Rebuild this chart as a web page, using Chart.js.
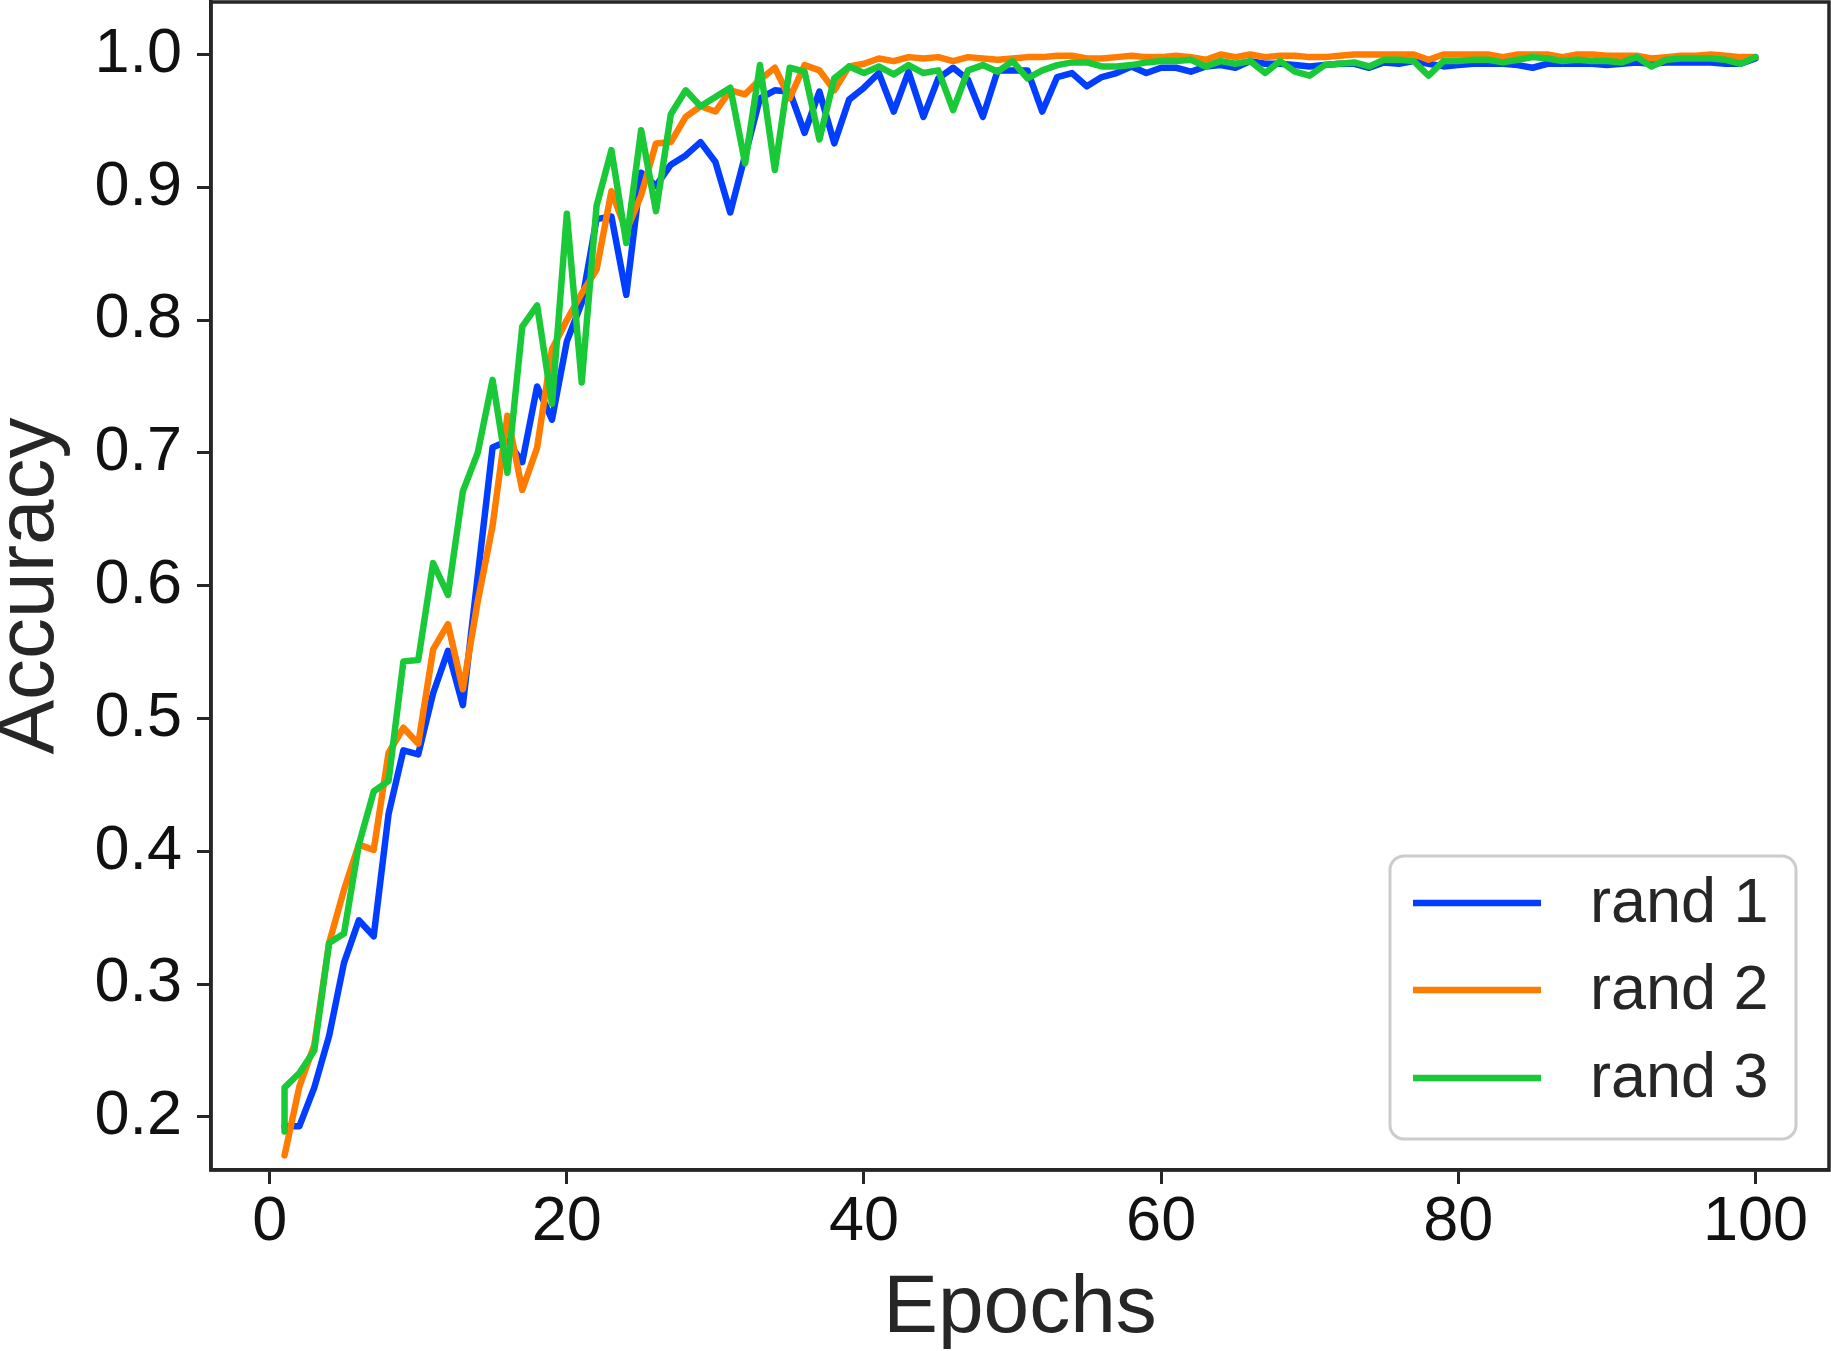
<!DOCTYPE html>
<html>
<head>
<meta charset="utf-8">
<script src="https://cdn.jsdelivr.net/npm/chart.js@4.4.1/dist/chart.umd.min.js"></script>
<style>
  html, body { margin: 0; padding: 0; background: #ffffff; }
  #wrap { width: 1831px; height: 1351px; position: relative; }
  canvas { display: block; }
</style>
</head>
<body>
<div id="wrap"><canvas id="c" width="1831" height="1351"></canvas></div>
<script>
// ---------------- data ----------------
const epochs = [1,2,3,4,5,6,7,8,9,10,11,12,13,14,15,16,17,18,19,20,
  21,22,23,24,25,26,27,28,29,30,31,32,33,34,35,36,37,38,39,40,
  41,42,43,44,45,46,47,48,49,50,51,52,53,54,55,56,57,58,59,60,
  61,62,63,64,65,66,67,68,69,70,71,72,73,74,75,76,77,78,79,80,
  81,82,83,84,85,86,87,88,89,90,91,92,93,94,95,96,97,98,99,100];

const rand1 = [0.193,0.193,0.222,0.261,0.316,0.348,0.336,0.428,0.476,0.473,
  0.519,0.551,0.510,0.607,0.704,0.709,0.693,0.750,0.725,0.784,
  0.813,0.876,0.878,0.819,0.911,0.901,0.917,0.924,0.934,0.919,
  0.881,0.924,0.967,0.973,0.972,0.941,0.972,0.933,0.966,0.975,
  0.986,0.957,0.987,0.953,0.982,0.990,0.981,0.953,0.988,0.988,
  0.988,0.957,0.983,0.986,0.976,0.983,0.986,0.991,0.986,0.990,
  0.990,0.987,0.991,0.992,0.990,0.995,0.993,0.993,0.992,0.991,
  0.992,0.993,0.993,0.990,0.994,0.993,0.995,0.993,0.991,0.992,
  0.993,0.993,0.993,0.992,0.990,0.993,0.993,0.993,0.993,0.992,
  0.993,0.994,0.993,0.994,0.994,0.994,0.994,0.993,0.993,0.997];

const rand2 = [0.171,0.223,0.254,0.331,0.371,0.405,0.401,0.474,0.493,0.481,
  0.552,0.571,0.522,0.588,0.645,0.728,0.672,0.704,0.778,0.800,
  0.820,0.838,0.897,0.867,0.894,0.933,0.934,0.953,0.961,0.957,
  0.973,0.970,0.981,0.990,0.967,0.992,0.988,0.973,0.991,0.993,
  0.997,0.995,0.998,0.997,0.998,0.995,0.998,0.997,0.996,0.997,
  0.998,0.998,0.999,0.999,0.997,0.997,0.998,0.999,0.998,0.998,
  0.999,0.998,0.996,1.000,0.998,1.000,0.998,0.999,0.999,0.998,
  0.998,0.999,1.000,1.000,1.000,1.000,1.000,0.996,1.000,1.000,
  1.000,1.000,0.998,1.000,1.000,1.000,0.998,1.000,1.000,0.999,
  0.999,0.999,0.997,0.998,0.999,0.999,1.000,0.999,0.998,0.998];

// rand 3 starts with two values logged at epoch 1
const rand3Epochs = [1].concat(epochs);
const rand3 = [0.189,0.222,0.233,0.250,0.331,0.338,0.405,0.445,0.453,0.543,0.544,
  0.617,0.593,0.671,0.700,0.755,0.685,0.795,0.811,0.737,0.880,
  0.753,0.886,0.928,0.858,0.943,0.882,0.955,0.973,0.961,0.968,
  0.975,0.918,0.992,0.913,0.990,0.987,0.936,0.982,0.991,0.986,
  0.991,0.985,0.992,0.986,0.988,0.958,0.988,0.992,0.987,0.995,
  0.982,0.988,0.992,0.994,0.994,0.991,0.991,0.992,0.994,0.995,
  0.995,0.996,0.991,0.995,0.993,0.995,0.986,0.995,0.987,0.984,
  0.992,0.993,0.994,0.991,0.996,0.996,0.995,0.984,0.995,0.995,
  0.996,0.996,0.994,0.996,0.998,0.997,0.995,0.996,0.995,0.995,
  0.994,0.998,0.991,0.996,0.997,0.997,0.997,0.996,0.993,0.998];

const seriesLabels = ['rand 1', 'rand 2', 'rand 3'];
const seriesColors = ['#023eff', '#ff7c00', '#1ac938'];
const xTicks = [0, 20, 40, 60, 80, 100];
const yTicks = [0.2, 0.3, 0.4, 0.5, 0.6, 0.7, 0.8, 0.9, 1.0];
const xTitle = 'Epochs';
const yTitle = 'Accuracy';

// ---------------- helpers ----------------
const INK = '#262626';
const FONT = "'Liberation Sans', Arial, Helvetica, sans-serif";
function pairs(xs, ys) { return ys.map((y, i) => ({ x: xs[i], y: y })); }

const frameAndLegend = {
  id: 'frameAndLegend',
  afterDatasetsDraw(chart) {
    const { ctx, chartArea: a } = chart;
    ctx.save();
    ctx.strokeStyle = INK;
    ctx.lineWidth = 3.5;
    ctx.strokeRect(a.left, a.top, a.right - a.left, a.bottom - a.top);
    ctx.restore();
  },
  afterDraw(chart) {
    const { ctx } = chart;
    const bx = 1390, by = 856, bw = 406, bh = 283, r = 14;
    ctx.save();
    ctx.beginPath();
    ctx.moveTo(bx + r, by);
    ctx.arcTo(bx + bw, by, bx + bw, by + bh, r);
    ctx.arcTo(bx + bw, by + bh, bx, by + bh, r);
    ctx.arcTo(bx, by + bh, bx, by, r);
    ctx.arcTo(bx, by, bx + bw, by, r);
    ctx.closePath();
    ctx.fillStyle = 'rgba(255,255,255,0.8)';
    ctx.fill();
    ctx.strokeStyle = '#cccccc';
    ctx.lineWidth = 3;
    ctx.stroke();
    const rows = [903, 990, 1078];
    chart.data.datasets.forEach((ds, i) => {
      const y = rows[i];
      ctx.beginPath();
      ctx.moveTo(1413, y);
      ctx.lineTo(1541, y);
      ctx.strokeStyle = ds.borderColor;
      ctx.lineWidth = 6.5;
      ctx.lineCap = 'butt';
      ctx.stroke();
      ctx.fillStyle = INK;
      ctx.font = '63px ' + FONT;
      ctx.textAlign = 'left';
      ctx.textBaseline = 'middle';
      ctx.fillText(ds.label, 1590, y + 2);
    });
    ctx.restore();
  }
};

const datasets = [
  { label: seriesLabels[0], data: pairs(epochs, rand1), borderColor: seriesColors[0], order: 2 },
  { label: seriesLabels[1], data: pairs(epochs, rand2), borderColor: seriesColors[1], order: 1 },
  { label: seriesLabels[2], data: pairs(rand3Epochs, rand3), borderColor: seriesColors[2], order: 0 }
].map(d => Object.assign(d, {
  borderWidth: 6.5, pointRadius: 0, pointHoverRadius: 0, tension: 0, fill: false,
  borderJoinStyle: 'round', borderCapStyle: 'round', backgroundColor: d.borderColor
}));

new Chart(document.getElementById('c'), {
  type: 'line',
  data: { datasets: datasets },
  options: {
    responsive: false,
    animation: false,
    devicePixelRatio: 1,
    layout: { padding: { top: 2, right: 2, left: 0, bottom: 0 } },
    plugins: { legend: { display: false }, tooltip: { enabled: false } },
    scales: {
      x: {
        type: 'linear',
        min: -3.95, max: 104.95,
        afterBuildTicks: s => { s.ticks = xTicks.map(v => ({ value: v })); },
        afterFit: s => { s.height = 181; s.paddingLeft = 0; s.paddingRight = 0; },
        grid: { display: true, drawOnChartArea: false, drawTicks: true, tickLength: 14, tickWidth: 3, tickColor: INK },
        border: { display: true, width: 3.5, color: INK },
        ticks: {
          color: '#111111', padding: 9, maxRotation: 0, autoSkip: false,
          font: { family: FONT, size: 63, lineHeight: '60px' },
          callback: v => String(v)
        },
        title: {
          display: true, text: xTitle, color: INK, padding: 0,
          font: { family: FONT, size: 82, lineHeight: '84px' }
        }
      },
      y: {
        type: 'linear',
        min: 0.16, max: 1.0395,
        afterBuildTicks: s => { s.ticks = yTicks.map(v => ({ value: v })); },
        afterFit: s => { s.width = 211; s.paddingTop = 0; s.paddingBottom = 0; },
        grid: { display: true, drawOnChartArea: false, drawTicks: true, tickLength: 14, tickWidth: 3, tickColor: INK },
        border: { display: true, width: 3.5, color: INK },
        ticks: {
          color: '#111111', padding: 15, autoSkip: false,
          font: { family: FONT, size: 63, lineHeight: '60px' },
          callback: v => Number(v).toFixed(1)
        },
        title: {
          display: true, text: yTitle, color: INK, padding: 0,
          font: { family: FONT, size: 82, lineHeight: '61px' }
        }
      }
    }
  },
  plugins: [frameAndLegend]
});
</script>
</body>
</html>
